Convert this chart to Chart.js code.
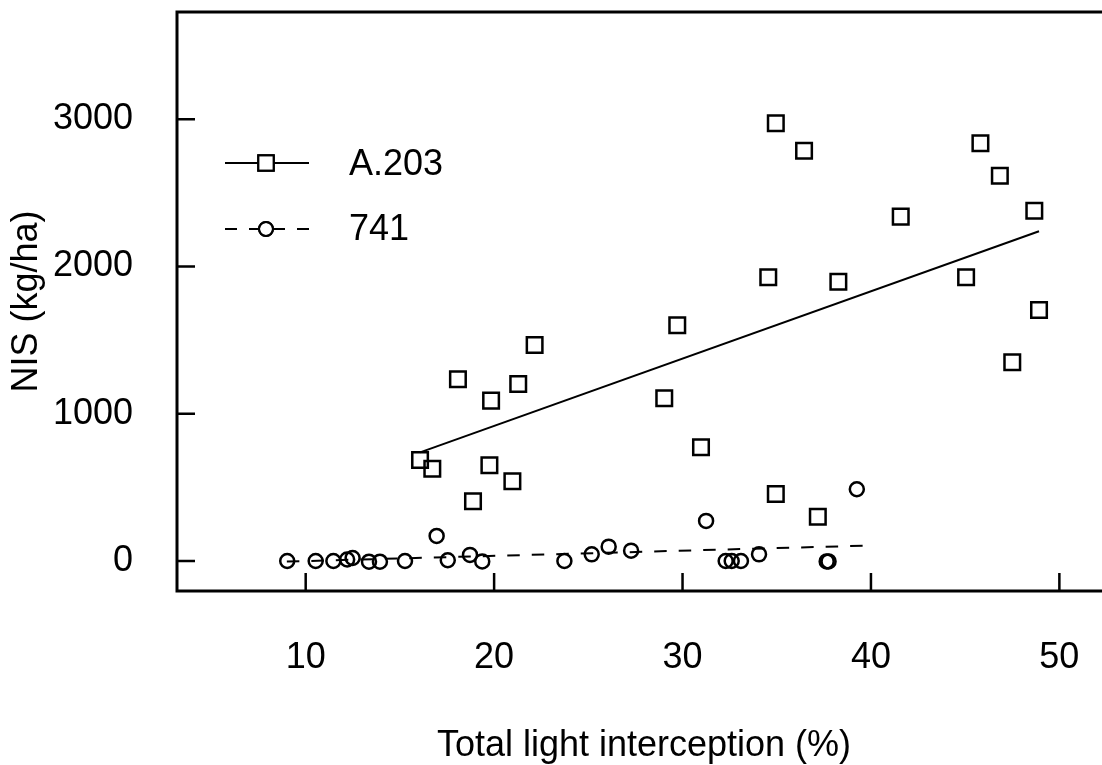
<!DOCTYPE html>
<html>
<head>
<meta charset="utf-8">
<script src="https://cdn.jsdelivr.net/npm/chart.js@4.4.1/dist/chart.umd.min.js"></script>
<style>
html,body{margin:0;padding:0;background:#fff;overflow:hidden;}
#wrap{width:1102px;height:765px;overflow:hidden;position:relative;}
canvas{display:block;}
</style>
</head>
<body>
<div id="wrap"><canvas id="c" width="1111" height="765" style="width:1111px;height:765px"></canvas></div>
<script>
// ---- data ----
const xTickValues = [10, 20, 30, 40, 50];
const yTickValues = [0, 1000, 2000, 3000];
const seriesNames = ['A.203', '741'];
const xTitle = 'Total light interception (%)';
const yTitle = 'NIS (kg/ha)';

const a203X = [34.95, 36.45, 45.81, 46.84, 48.67, 41.58, 34.55, 38.27, 45.05, 48.92, 29.72, 47.50, 29.03,
               30.98, 34.95, 37.18, 22.15, 18.08, 21.28, 19.84, 16.07, 16.72, 19.75, 20.97, 18.88];
const a203Y = [2973, 2787, 2837, 2617, 2379, 2339, 1927, 1897, 1927, 1705, 1601, 1350, 1105,
               772, 455, 301, 1467, 1234, 1202, 1089, 686, 627, 650, 541, 405];

const l741X = [9.02, 10.53, 11.47, 12.20, 12.49, 13.36, 13.94, 15.27, 16.95, 17.54, 18.72, 19.37,
               23.73, 25.18, 26.08, 27.27, 31.25, 32.29, 32.61, 33.10, 34.06, 37.65, 37.75, 39.25];
const l741Y = [0, 0, 0, 10, 20, -5, -5, 0, 170, 5, 41, -3,
               0, 45, 97, 70, 272, 0, 0, 0, 45, -3, -3, 487];

const a203FitX = [16.07, 48.92];
const a203FitY = [738, 2240];
const l741FitX = [9.0, 40.0];
const l741FitY = [-4, 105];

// ---- build ----
const FONT = '"Liberation Sans", Arial, Helvetica, sans-serif';
const FS = 36;
const pts = (xs, ys) => xs.map((x, i) => ({x: x, y: ys[i]}));

const framePlugin = {
  id: 'frame',
  beforeDraw(chart) {
    const c = chart.ctx;
    c.save(); c.fillStyle = '#fff'; c.fillRect(0, 0, chart.width, chart.height); c.restore();
  },
  afterDraw(chart) {
    const ctx = chart.ctx, a = chart.chartArea, xs = chart.scales.x, ys = chart.scales.y;
    ctx.save();
    ctx.strokeStyle = '#000';
    ctx.lineWidth = 3;
    ctx.lineJoin = 'miter';
    ctx.strokeRect(a.left, a.top, a.right - a.left, a.bottom - a.top);
    // inward ticks
    ctx.lineWidth = 2.5;
    ctx.beginPath();
    xTickValues.forEach(v => { const p = xs.getPixelForValue(v); ctx.moveTo(p, a.bottom); ctx.lineTo(p, a.bottom - 18); });
    yTickValues.forEach(v => { const p = ys.getPixelForValue(v); ctx.moveTo(a.left, p); ctx.lineTo(a.left + 18, p); });
    ctx.stroke();
    // legend
    const lx0 = a.left + 48, lx1 = a.left + 132, mx = a.left + 89, tx = a.left + 172;
    const rows = [a.top + 151, a.top + 217];
    ctx.lineWidth = 2;
    ctx.setLineDash([]);
    ctx.beginPath(); ctx.moveTo(lx0, rows[0]); ctx.lineTo(lx1, rows[0]); ctx.stroke();
    ctx.setLineDash([12, 12]);
    ctx.beginPath(); ctx.moveTo(lx0, rows[1]); ctx.lineTo(lx1, rows[1]); ctx.stroke();
    ctx.setLineDash([]);
    ctx.fillStyle = '#fff';
    ctx.fillRect(mx - 8, rows[0] - 8, 16, 16);
    ctx.beginPath(); ctx.arc(mx, rows[1], 6, 0, Math.PI * 2); ctx.fill();
    ctx.strokeStyle = '#000';
    Chart.helpers.drawPoint(ctx, {pointStyle: 'rect', radius: 11, borderWidth: 2.5, rotation: 0}, mx, rows[0]);
    ctx.stroke();
    Chart.helpers.drawPoint(ctx, {pointStyle: 'circle', radius: 7, borderWidth: 2.5, rotation: 0}, mx, rows[1]);
    ctx.stroke();
    ctx.fillStyle = '#000';
    ctx.font = FS + 'px ' + FONT;
    ctx.textAlign = 'left';
    ctx.textBaseline = 'middle';
    ctx.fillText(seriesNames[0], tx, rows[0] + 2);
    ctx.fillText(seriesNames[1], tx, rows[1] + 1);
    ctx.restore();
  }
};

new Chart(document.getElementById('c'), {
  type: 'scatter',
  data: {
    datasets: [
      {label: seriesNames[0], data: pts(a203X, a203Y), pointStyle: 'rect', pointRadius: 11,
       pointBorderWidth: 2.5, borderColor: '#000', backgroundColor: 'rgba(0,0,0,0)', showLine: false},
      {label: seriesNames[1], data: pts(l741X, l741Y), pointStyle: 'circle', pointRadius: 7,
       pointBorderWidth: 2.5, borderColor: '#000', backgroundColor: 'rgba(0,0,0,0)', showLine: false},
      {label: seriesNames[0] + ' fit', data: pts(a203FitX, a203FitY), showLine: true, pointRadius: 0,
       borderColor: '#000', borderWidth: 2, fill: false},
      {label: seriesNames[1] + ' fit', data: pts(l741FitX, l741FitY), showLine: true, pointRadius: 0,
       borderColor: '#000', borderWidth: 2, borderDash: [12.5, 12], fill: false}
    ]
  },
  options: {
    responsive: false,
    animation: false,
    events: [],
    layout: {autoPadding: false, padding: {top: 12, left: 0, right: 0, bottom: 0}},
    plugins: {legend: {display: false}, tooltip: {enabled: false}},
    scales: {
      x: {
        type: 'linear', position: 'bottom', min: 3.17, max: 52.74,
        grid: {display: false, drawTicks: false}, border: {display: false},
        afterBuildTicks: s => { s.ticks = xTickValues.map(v => ({value: v})); },
        afterFit: s => { s.height = 174; s.paddingLeft = 0; s.paddingRight = 0; },
        ticks: {font: {family: FONT, size: FS}, color: '#000', padding: 45, maxRotation: 0, autoSkip: false,
                callback: v => String(v)},
        title: {display: true, text: xTitle, font: {family: FONT, size: FS}, color: '#000', padding: {top: 0, bottom: -3}}
      },
      y: {
        type: 'linear', position: 'left', min: -204, max: 3729,
        grid: {display: false, drawTicks: false}, border: {display: false},
        afterBuildTicks: s => { s.ticks = yTickValues.map(v => ({value: v})); },
        afterFit: s => { s.width = 177; s.paddingTop = 0; s.paddingBottom = 0; },
        ticks: {font: {family: FONT, size: FS}, color: '#000', padding: 44, autoSkip: false,
                callback: v => String(v)},
        title: {display: true, text: yTitle, font: {family: FONT, size: FS}, color: '#000', padding: {top: 5.1, bottom: 0}}
      }
    }
  },
  plugins: [framePlugin]
});
</script>
</body>
</html>
